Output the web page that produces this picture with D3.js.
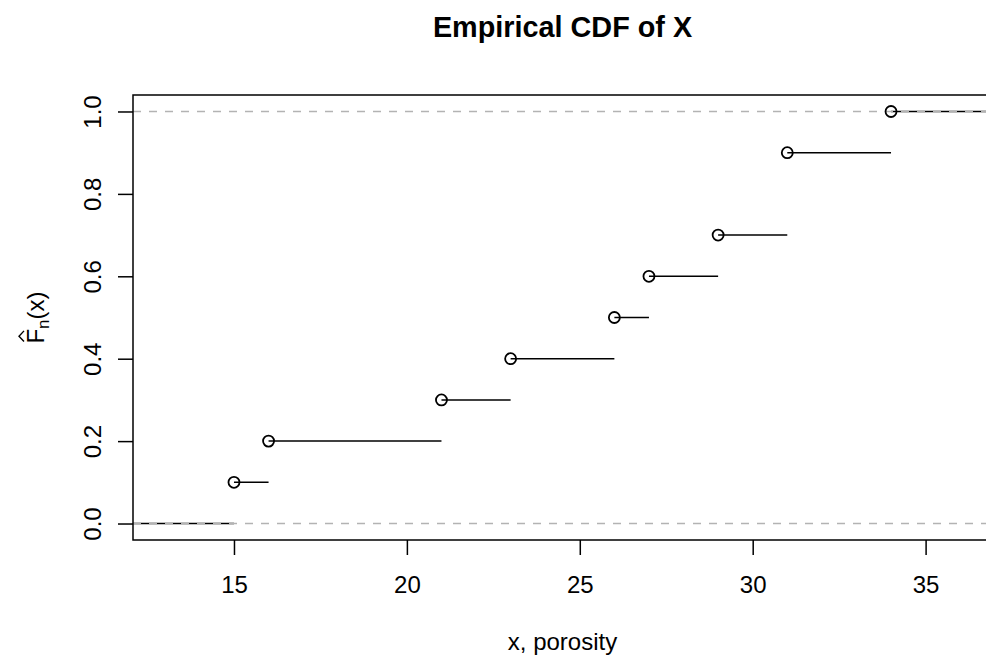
<!DOCTYPE html>
<html>
<head>
<meta charset="utf-8">
<script src="https://cdn.jsdelivr.net/npm/d3@7"></script>
<style>
  body { margin: 0; background: #fff; }
  text { font-family: "Liberation Sans", Arial, sans-serif; fill: #000; }
</style>
</head>
<body>
<div id="chart"></div>
<script>
// sample values (porosity), and the step heights
var knots = [15, 16, 21, 23, 26, 27, 29, 31, 34];
var heights = [0.1, 0.2, 0.3, 0.4, 0.5, 0.6, 0.7, 0.9, 1.0];
var xTicks = [15, 20, 25, 30, 35];
var yTicks = [0, 0.2, 0.4, 0.6, 0.8, 1.0];
var xDomain = [12.08, 36.92];
var yDomain = [-0.04, 1.04];

var svgWidth = 986;
var svgHeight = 656;

var margin = {
    top: 95,
    bottom: 116,
    right: -6,
    left: 133
};

var width = svgWidth - margin.left - margin.right;
var height = svgHeight - margin.top - margin.bottom;

var svg = d3.select("#chart")
    .append("svg")
    .attr("width", svgWidth)
    .attr("height", svgHeight);

var chartGroup = svg.append("g")
    .attr("transform", `translate(${margin.left}, ${margin.top})`);

var xScale = d3.scaleLinear().domain(xDomain).range([0, width]);
var yScale = d3.scaleLinear().domain(yDomain).range([height, 0]);

// step segments: from each knot to the next, plus the two tails
var segs = [{ x0: xDomain[0], x1: knots[0], y: 0 }];
knots.forEach((k, i) => {
    segs.push({
        x0: k,
        x1: i < knots.length - 1 ? knots[i + 1] : xDomain[1],
        y: heights[i]
    });
});

chartGroup.selectAll(".step")
    .data(segs)
    .enter()
    .append("line")
    .attr("class", "step")
    .attr("x1", d => xScale(d.x0))
    .attr("x2", d => xScale(d.x1))
    .attr("y1", d => yScale(d.y))
    .attr("y2", d => yScale(d.y))
    .attr("stroke", "#000")
    .attr("stroke-width", 1.5);

// gray dashed reference lines at 0 and 1
chartGroup.selectAll(".ref")
    .data([0, 1])
    .enter()
    .append("line")
    .attr("class", "ref")
    .attr("x1", 0)
    .attr("x2", width)
    .attr("y1", d => yScale(d))
    .attr("y2", d => yScale(d))
    .attr("stroke", "#b3b3b3")
    .attr("stroke-width", 1.5)
    .attr("stroke-dasharray", "8,8");

chartGroup.selectAll(".pt")
    .data(knots)
    .enter()
    .append("circle")
    .attr("class", "pt")
    .attr("cx", d => xScale(d))
    .attr("cy", (d, i) => yScale(heights[i]))
    .attr("r", 5.5)
    .attr("fill", "none")
    .attr("stroke", "#000")
    .attr("stroke-width", 1.8);

// box (left, top, bottom)
chartGroup.append("rect")
    .attr("x", 0)
    .attr("y", 0)
    .attr("width", width)
    .attr("height", height)
    .attr("fill", "none")
    .attr("stroke", "#000")
    .attr("stroke-width", 1.5);

// axes
var xAxis = d3.axisBottom(xScale).tickValues(xTicks).tickSize(15).tickFormat(d3.format("d"));
var yAxis = d3.axisLeft(yScale).tickValues(yTicks).tickSize(15).tickFormat(d3.format(".1f"));

var gx = chartGroup.append("g")
    .attr("transform", `translate(0, ${height})`)
    .call(xAxis);
gx.select(".domain").remove();
gx.selectAll("line").attr("stroke-width", 1.5);
gx.selectAll("text")
    .attr("font-size", "24px")
    .attr("dy", null)
    .attr("y", 53);

var gy = chartGroup.append("g").call(yAxis);
gy.select(".domain").remove();
gy.selectAll("line").attr("stroke-width", 1.5);
gy.selectAll("text")
    .attr("font-size", "24px")
    .attr("text-anchor", "middle")
    .attr("dy", null)
    .attr("x", null)
    .attr("transform", "translate(-32, 0) rotate(-90)");
chartGroup.selectAll("g").attr("font-family", null);

// title and axis titles
svg.append("text")
    .attr("x", margin.left + width / 2)
    .attr("y", 37)
    .attr("text-anchor", "middle")
    .attr("font-size", "28.8px")
    .attr("font-weight", "bold")
    .text("Empirical CDF of X");

svg.append("text")
    .attr("x", margin.left + width / 2)
    .attr("y", 650)
    .attr("text-anchor", "middle")
    .attr("font-size", "24px")
    .text("x, porosity");

// y label: F-hat with subscript n, rotated
var yLabG = svg.append("g")
    .attr("transform", `translate(44, ${margin.top + height / 2}) rotate(-90)`);
var yLab = yLabG.append("text")
    .attr("font-size", "24px");
yLab.append("tspan").text("F");
yLab.append("tspan").attr("font-size", "17px").attr("dy", 5).text("n");
yLab.append("tspan").attr("dy", -5).text("(x)");

var labLen = yLab.node().getComputedTextLength();
yLab.attr("x", -labLen / 2);
var fW = yLab.node().getSubStringLength(0, 1);
var fx = -labLen / 2;

yLabG.append("path")
    .attr("d", d3.line()([[fx + 2, -20], [fx + fW / 2, -25], [fx + fW - 2, -20]]))
    .attr("fill", "none")
    .attr("stroke", "#000")
    .attr("stroke-width", 1.4);
</script>
</body>
</html>
